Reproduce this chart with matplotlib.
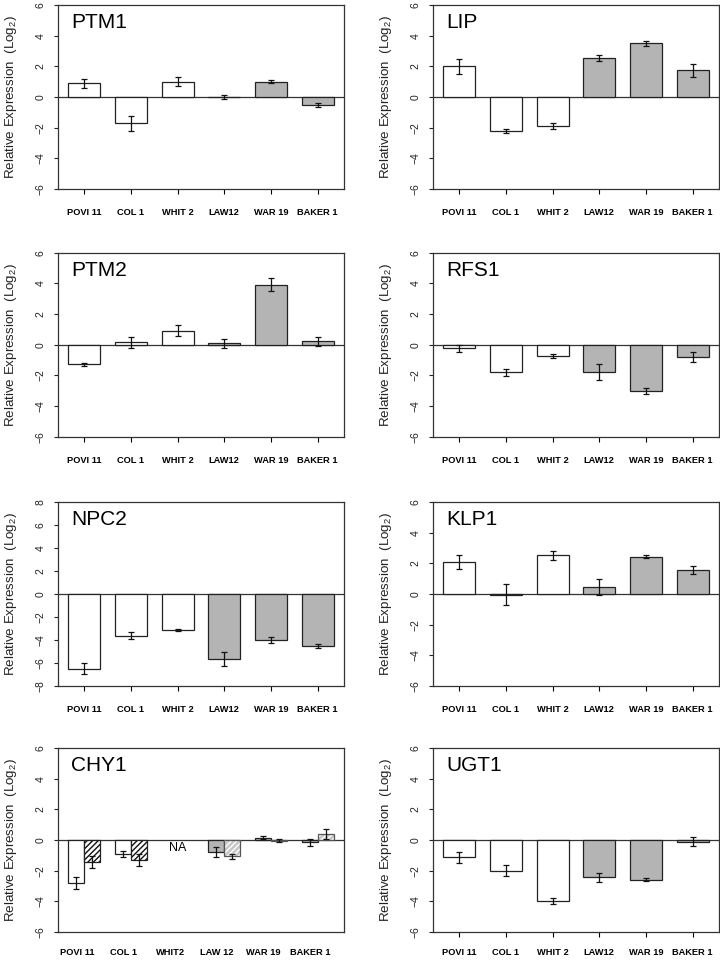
import numpy as np
import matplotlib
matplotlib.use('Agg')
import matplotlib.pyplot as plt

plt.rcParams['font.family'] = ['Liberation Sans', 'DejaVu Sans']
plt.rcParams['mathtext.fontset'] = 'custom'
plt.rcParams['mathtext.rm'] = 'Liberation Sans'
plt.rcParams['hatch.linewidth'] = 1.0

# strains on the x axis
strains = ['POVI 11', 'COL 1', 'WHIT 2', 'LAW12', 'WAR 19', 'BAKER 1']
chy_strains = ['POVI 11', 'COL 1', 'WHIT2', 'LAW 12', 'WAR 19', 'BAKER 1']

# values (log2 relative expression) and error bars
ptm1 = [0.9, -1.72, 1.0, 0.02, 1.0, -0.5]
ptm1_err = [0.3, 0.5, 0.3, 0.13, 0.1, 0.12]
lip = [2.0, -2.2, -1.86, 2.57, 3.5, 1.75]
lip_err = [0.5, 0.14, 0.2, 0.2, 0.15, 0.42]
ptm2 = [-1.26, 0.15, 0.93, 0.1, 3.93, 0.22]
ptm2_err = [0.1, 0.39, 0.38, 0.3, 0.41, 0.3]
rfs1 = [-0.24, -1.8, -0.74, -1.76, -3.02, -0.8]
rfs1_err = [0.24, 0.22, 0.14, 0.53, 0.17, 0.3]
npc2 = [-6.5, -3.62, -3.12, -5.63, -4.0, -4.5]
npc2_err = [0.47, 0.32, 0.08, 0.61, 0.23, 0.19]
klp1 = [2.1, -0.05, 2.52, 0.48, 2.43, 1.57]
klp1_err = [0.45, 0.68, 0.3, 0.53, 0.1, 0.26]
ugt1 = [-1.13, -1.98, -3.96, -2.43, -2.59, -0.09]
ugt1_err = [0.35, 0.38, 0.2, 0.28, 0.09, 0.27]
# CHY1 has two series (solid / hatched); WHIT2 not available
chy1_a = [-2.78, -0.91, np.nan, -0.78, 0.15, -0.15]
chy1_a_err = [0.39, 0.17, np.nan, 0.33, 0.1, 0.23]
chy1_b = [-1.43, -1.3, np.nan, -1.04, -0.03, 0.39]
chy1_b_err = [0.38, 0.41, np.nan, 0.16, 0.1, 0.34]

gray = '#b4b4b4'
fills = ['white'] * 3 + [gray] * 3

x = np.arange(len(strains))
bw = 0.687

fig = plt.figure(figsize=(7.2, 9.6), dpi=100)

lefts = [0.0806, 0.6014]
bottoms = [0.803, 0.545, 0.2854, 0.029]
W, H = 0.397, 0.1917


def setup(ax, name, ylim):
    ax.set_xlim(-0.563, 5.563)
    ax.set_ylim(-ylim, ylim)
    ax.set_yticks(np.arange(-ylim, ylim + 1, 2))
    ax.set_yticklabels([str(v).replace('-', '\u2212') for v in np.arange(-ylim, ylim + 1, 2)],
                       rotation=90, va='center', fontsize=7.5)
    ax.tick_params(axis='y', length=3, width=0.8, pad=6, colors='#222222')
    ax.axhline(0, color='#333333', lw=0.9, zorder=1)
    for s in ax.spines.values():
        s.set_linewidth(0.9)
        s.set_color('#333333')
    ax.set_ylabel('Relative Expression  (Log$_2$)', fontsize=9.6, color='#222222')
    ax.yaxis.set_label_coords(-0.138, 0.5)
    ax.text(0.046, 0.905, name, transform=ax.transAxes, fontsize=15, va='center', ha='left')


def simple(ax, name, vals, errs, ylim=6, pad=10):
    setup(ax, name, ylim)
    ax.bar(x, vals, bw, color=fills, edgecolor='#222222', lw=0.9, zorder=2)
    ax.errorbar(x, vals, yerr=errs, fmt='none', ecolor='#111111', elinewidth=0.9,
                capsize=2.5, capthick=0.9, zorder=3)
    ax.set_xticks(x)
    ax.set_xticklabels(strains, fontsize=6.7, fontweight='bold')
    ax.tick_params(axis='x', length=3.5, width=0.8, pad=pad)


panels = [
    ('PTM1', ptm1, ptm1_err, 6, 0, 0),
    ('LIP', lip, lip_err, 6, 1, 0),
    ('PTM2', ptm2, ptm2_err, 6, 0, 1),
    ('RFS1', rfs1, rfs1_err, 6, 1, 1),
    ('NPC2', npc2, npc2_err, 8, 0, 2),
    ('KLP1', klp1, klp1_err, 6, 1, 2),
    ('UGT1', ugt1, ugt1_err, 6, 1, 3),
]
for name, v, e, yl, c, r in panels:
    ax = fig.add_axes([lefts[c], bottoms[r], W, H])
    simple(ax, name, v, e, yl, pad=8 if r == 3 else 10)

# CHY1 grouped panel
ax = fig.add_axes([lefts[0], bottoms[3], W, H])
setup(ax, 'CHY1', 6)
hw = bw / 2
xa = x - hw / 2
xb = x + hw / 2
ax.bar(xa, chy1_a, hw, color=fills, edgecolor='#222222', lw=0.9, zorder=2)
# hatched series: dark hatch on white, light hatch on gray
ax.bar(xb[:3], chy1_b[:3], hw, color='white', edgecolor='#111111', hatch='//////', lw=0, zorder=2)
ax.bar(xb[3:], chy1_b[3:], hw, color='#c6c6c6', edgecolor='white', hatch='//////', lw=0, zorder=2)
ax.bar(xb, chy1_b, hw, color='none', edgecolor=['#222222'] * 3 + ['#555555'] * 3, lw=0.9, zorder=2.5)
ax.errorbar(xa, chy1_a, yerr=chy1_a_err, fmt='none', ecolor='#111111', elinewidth=0.9,
            capsize=2.5, capthick=0.9, zorder=3)
ax.errorbar(xb, chy1_b, yerr=chy1_b_err, fmt='none', ecolor='#111111', elinewidth=0.9,
            capsize=2.5, capthick=0.9, zorder=3)
ax.text(x[2], -0.5, 'NA', ha='center', va='center', fontsize=9)
ax.set_xticks(x - 0.16)
ax.set_xticklabels(chy_strains, fontsize=6.7, fontweight='bold')
ax.tick_params(axis='x', length=0, pad=11.5)

fig.savefig('out.png', dpi=100)
